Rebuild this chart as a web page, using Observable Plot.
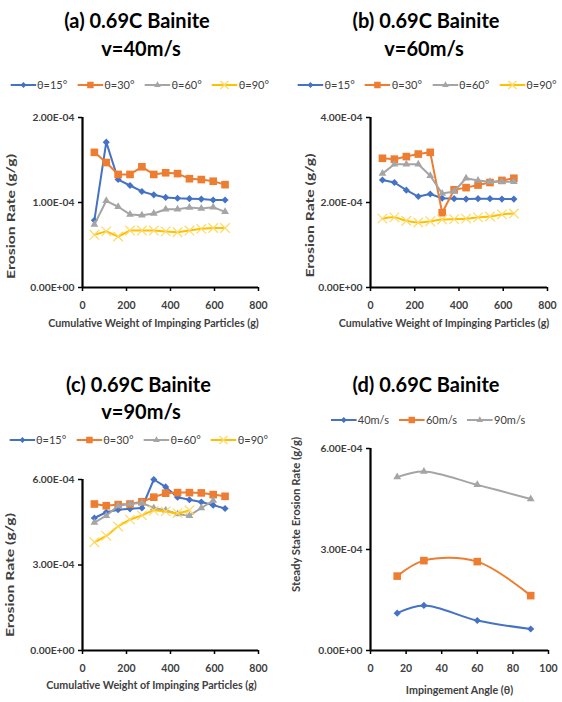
<!DOCTYPE html>
<html><head><meta charset="utf-8">
<script src="https://cdn.jsdelivr.net/npm/d3@7"></script>
<script src="https://cdn.jsdelivr.net/npm/@observablehq/plot@0.6"></script>
<style>
body{margin:0;background:#fff;}
#root{position:relative;width:562px;height:702px;overflow:hidden;font-family:Lato,sans-serif;}
.title{position:absolute;font-weight:700;font-size:20px;line-height:20px;color:#000;white-space:nowrap;transform:translateX(-50%);}
.legend{position:absolute;display:flex;align-items:center;gap:10px;transform:translate(-50%,-50%);font-size:11px;line-height:12px;color:#404040;white-space:nowrap;}
.legend .item{display:flex;align-items:center;gap:1px;}
.plot{position:absolute;}
</style></head>
<body><div id="root"></div>
<script>
// ---------- data ----------
const weights = [54,108,162,216,270,324,378,432,486,540,594,648];
const weights11 = [54,108,162,216,270,324,378,432,486,540,594];
const weights9 = [54,108,162,216,270,324,378,432,486];
const angleNames = ["θ=15°","θ=30°","θ=60°","θ=90°"];
const speedNames = ["40m/s","60m/s","90m/s"];
const angles = [15,30,60,90];

// (a) v = 40 m/s
const a15 = [0.79e-4,1.71e-4,1.27e-4,1.20e-4,1.13e-4,1.09e-4,1.06e-4,1.05e-4,1.045e-4,1.04e-4,1.03e-4,1.03e-4];
const a30 = [1.59e-4,1.47e-4,1.33e-4,1.33e-4,1.42e-4,1.33e-4,1.35e-4,1.34e-4,1.28e-4,1.27e-4,1.25e-4,1.21e-4];
const a60 = [0.74e-4,1.02e-4,0.95e-4,0.86e-4,0.85e-4,0.87e-4,0.92e-4,0.92e-4,0.94e-4,0.93e-4,0.945e-4,0.89e-4];
const a90 = [0.62e-4,0.66e-4,0.60e-4,0.67e-4,0.67e-4,0.67e-4,0.66e-4,0.65e-4,0.67e-4,0.69e-4,0.70e-4,0.70e-4];
// (b) v = 60 m/s
const b15 = [2.53e-4,2.47e-4,2.29e-4,2.14e-4,2.20e-4,2.10e-4,2.09e-4,2.08e-4,2.09e-4,2.09e-4,2.08e-4,2.08e-4];
const b30 = [3.04e-4,3.02e-4,3.08e-4,3.14e-4,3.18e-4,1.76e-4,2.30e-4,2.35e-4,2.41e-4,2.47e-4,2.52e-4,2.57e-4];
const b60 = [2.68e-4,2.90e-4,2.90e-4,2.90e-4,2.63e-4,2.21e-4,2.26e-4,2.57e-4,2.52e-4,2.49e-4,2.49e-4,2.49e-4];
const b90 = [1.62e-4,1.65e-4,1.57e-4,1.53e-4,1.56e-4,1.60e-4,1.61e-4,1.62e-4,1.65e-4,1.67e-4,1.72e-4,1.74e-4];
// (c) v = 90 m/s
const c15 = [4.65e-4,4.85e-4,4.94e-4,4.97e-4,5.00e-4,6.00e-4,5.74e-4,5.38e-4,5.29e-4,5.21e-4,5.10e-4,4.98e-4];
const c30 = [5.14e-4,5.08e-4,5.12e-4,5.14e-4,5.22e-4,5.38e-4,5.52e-4,5.54e-4,5.54e-4,5.53e-4,5.47e-4,5.41e-4];
const c60 = [4.49e-4,4.73e-4,5.08e-4,5.14e-4,5.18e-4,5.00e-4,4.92e-4,4.79e-4,4.73e-4,5.00e-4,5.26e-4];
const c90 = [3.80e-4,4.02e-4,4.35e-4,4.59e-4,4.74e-4,4.91e-4,4.88e-4,4.82e-4,4.92e-4];
// (d) steady state
const d40 = [1.11e-4,1.34e-4,0.89e-4,0.64e-4];
const d60 = [2.21e-4,2.67e-4,2.64e-4,1.63e-4];
const d90 = [5.15e-4,5.32e-4,4.92e-4,4.50e-4];

// ticks
const weightTicks = [0,200,400,600,800];
const angleTicks = [0,20,40,60,80,100];
const yTicksA = [0,1e-4,2e-4];
const yTicksB = [0,2e-4,4e-4];
const yTicksC = [0,3e-4,6e-4];
const yTicksD = [0,3e-4,6e-4];

// ---------- styles ----------
const COL = {blue:"#4472C4", orange:"#ED7D31", gray:"#A5A5A5", yellow:"#FFC000"};
const STY = [
  {color:COL.blue, symbol:"diamond2", r:3.2, filled:true},
  {color:COL.orange, symbol:"square", r:4.3, filled:true},
  {color:COL.gray, symbol:"triangle", r:2.9, filled:true},
  {color:COL.yellow, symbol:"times", r:4.4, filled:false}
];
const d3sym = {diamond2:d3.symbolDiamond2, square:d3.symbolSquare, triangle:d3.symbolTriangle, times:d3.symbolTimes};

function sci(v){
  if (v === 0) return "0.00E+00";
  const e = Math.floor(Math.log10(v) + 1e-9);
  const m = v / Math.pow(10, e);
  return m.toFixed(2) + "E" + (e < 0 ? "-" : "+") + String(Math.abs(e)).padStart(2, "0");
}

const root = document.getElementById("root");

function title(text, cx, baseline){
  const d = document.createElement("div");
  d.className = "title"; d.textContent = text;
  d.style.left = cx + "px"; d.style.top = (baseline - 17) + "px";
  root.appendChild(d);
}

function legend(names, styles, cx, cy){
  const div = document.createElement("div");
  div.className = "legend"; div.style.left = cx + "px"; div.style.top = cy + "px";
  names.forEach((n, i) => {
    const s = styles[i];
    const item = document.createElement("span"); item.className = "item";
    const sv = d3.create("svg").attr("width", 26).attr("height", 12);
    sv.append("line").attr("x1", 0).attr("x2", 26).attr("y1", 6).attr("y2", 6)
      .attr("stroke", s.color).attr("stroke-width", 2);
    const p = sv.append("path").attr("transform", "translate(13,6)")
      .attr("d", d3.symbol(d3sym[s.symbol], Math.PI * (s.r*0.85) * (s.r*0.85))());
    if (s.filled) p.attr("fill", s.color); else p.attr("fill", "none").attr("stroke", "#FFD966").attr("stroke-width", 1.2);
    item.appendChild(sv.node());
    const t = document.createElement("span"); t.textContent = n; item.appendChild(t);
    div.appendChild(item);
  });
  root.appendChild(div);
}

function panel(cfg){
  const marks = [];
  cfg.series.forEach((s, i) => {
    const st = cfg.styles[i];
    const rows = s.x.map((x, j) => ({x, y: s.y[j]}));
    marks.push(Plot.line(rows, {x:"x", y:"y", stroke: st.color, strokeWidth: 2, curve: s.curve || "linear"}));
    if (st.filled) marks.push(Plot.dot(rows, {x:"x", y:"y", symbol: st.symbol, r: st.r, fill: st.color, stroke: "none"}));
    else marks.push(Plot.dot(rows, {x:"x", y:"y", symbol: st.symbol, r: st.r, stroke: "#FFD966", strokeWidth: 1.2, fill: "none"}));
  });
  const p = Plot.plot({
    width: 281, height: cfg.height,
    marginLeft: cfg.ml, marginRight: cfg.mr, marginTop: cfg.mt, marginBottom: cfg.mb,
    x: {domain: cfg.xDomain},
    y: {domain: cfg.yDomain},
    style: {fontFamily: "Lato, sans-serif", fontWeight: "700", fontSize: "10px", color: "#404040", background: "transparent", overflow: "visible"},
    marks: [
      Plot.axisX({ticks: cfg.xTicks, tickSize: 4, tickPadding: 10, label: null, stroke: "black", strokeWidth: 1.5, fill: "#404040", fontSize: 10.5}),
      Plot.axisY({ticks: cfg.yTicks, tickSize: 4, tickPadding: 4, label: null, tickFormat: sci, stroke: "black", strokeWidth: 1.5, fill: "#404040", fontSize: 10.3}),
      ...marks,
      Plot.ruleX([cfg.xDomain[0]], {stroke: "black", strokeWidth: 2.2}),
      Plot.ruleY([0], {stroke: "black", strokeWidth: 2.2}),
      Plot.text([cfg.xLabel], {frameAnchor: "bottom", dx: cfg.xlDx, dy: cfg.xlDy, lineAnchor: "middle", fill: "#404040", fontSize: 10.7, fontWeight: 700}),
      Plot.text([cfg.yLabel], {frameAnchor: "left", dx: cfg.ylDx, dy: cfg.ylDy, rotate: -90, lineAnchor: "middle", textAnchor: "middle", fill: "#404040", fontSize: 11, fontWeight: 700})
    ]
  });
  // stretch the rotated axis title to the length seen in the reference
  d3.select(p).selectAll("text").filter(function(){
    return (this.getAttribute("transform") || "").includes("rotate");
  }).attr("textLength", cfg.ylLen).attr("lengthAdjust", "spacingAndGlyphs");
  p.classList.add("plot");
  p.style.left = cfg.left + "px"; p.style.top = cfg.top + "px";
  root.appendChild(p);
}

// ---------- panels ----------
title("(a) 0.69C Bainite", 137, 27.3); title("v=40m/s", 141, 55);
legend(angleNames, STY, 139.5, 85);
panel({left:0, top:95, height:245, ml:82, mr:23, mt:22, mb:53,
  xDomain:[0,800], xTicks:weightTicks, yDomain:[0,2e-4], yTicks:yTicksA,
  xLabel:"Cumulative Weight of Impinging Particles (g)", xlDx:-17, xlDy:36,
  yLabel:"Erosion Rate (g/g)", ylDx:-71, ylDy:14, ylLen:125, styles:STY,
  series:[{x:weights,y:a15},{x:weights,y:a30},{x:weights,y:a60},{x:weights,y:a90}]});

title("(b) 0.69C Bainite", 426, 27.3); title("v=60m/s", 424, 55);
legend(angleNames, STY, 427, 85);
panel({left:281, top:95, height:245, ml:89, mr:15, mt:22, mb:53,
  xDomain:[0,800], xTicks:weightTicks, yDomain:[0,4e-4], yTicks:yTicksB,
  xLabel:"Cumulative Weight of Impinging Particles (g)", xlDx:-15, xlDy:36,
  yLabel:"Erosion Rate (g/g)", ylDx:-60, ylDy:13, ylLen:124, styles:STY,
  series:[{x:weights,y:b15},{x:weights,y:b30},{x:weights,y:b60},{x:weights,y:b90,curve:"catmull-rom"}]});

title("(c) 0.69C Bainite", 138.5, 390.7); title("v=90m/s", 141, 418.3);
legend(angleNames, STY, 138.5, 440);
panel({left:0, top:455, height:247, ml:82, mr:23, mt:24, mb:52,
  xDomain:[0,800], xTicks:weightTicks, yDomain:[0,6e-4], yTicks:yTicksC,
  xLabel:"Cumulative Weight of Impinging Particles (g)", xlDx:-19, xlDy:35,
  yLabel:"Erosion Rate (g/g)", ylDx:-72, ylDy:10, ylLen:124, styles:STY,
  series:[{x:weights,y:c15},{x:weights,y:c30},{x:weights11,y:c60},{x:weights9,y:c90,curve:"catmull-rom"}]});

title("(d) 0.69C Bainite", 426, 391);
legend(speedNames, STY.slice(0,3), 428, 420);
panel({left:281, top:425, height:277, ml:89, mr:14, mt:23, mb:52,
  xDomain:[0,100], xTicks:angleTicks, yDomain:[0,6e-4], yTicks:yTicksD,
  xLabel:"Impingement Angle (θ)", xlDx:0, xlDy:40,
  yLabel:"Steady State Erosion Rate (g/g)", ylDx:-74, ylDy:-35, ylLen:155, styles:STY.slice(0,3),
  series:[{x:angles,y:d40,curve:"catmull-rom"},{x:angles,y:d60,curve:"catmull-rom"},{x:angles,y:d90,curve:"catmull-rom"}]});
</script></body></html>
